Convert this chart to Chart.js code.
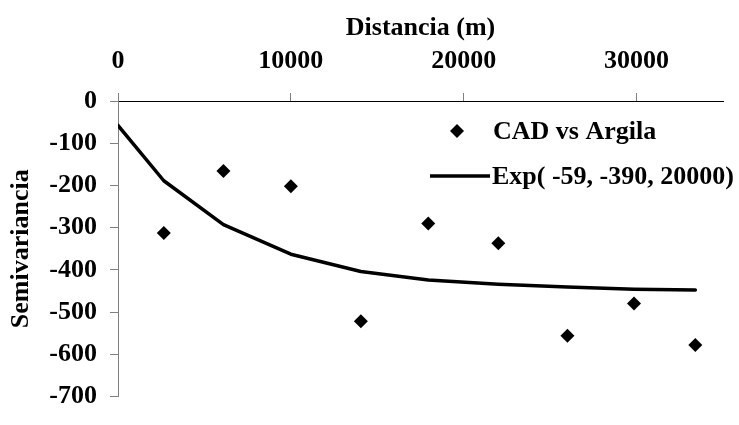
<!DOCTYPE html>
<html>
<head>
<meta charset="utf-8">
<script src="https://cdn.jsdelivr.net/npm/chart.js@4/dist/chart.umd.min.js"></script>
<style>
  html, body { margin: 0; padding: 0; background: #ffffff; }
  #wrap { width: 739px; height: 425px; }
</style>
</head>
<body>
<div id="wrap"><canvas id="semiChart" width="739" height="425"></canvas></div>
<script>

// =====================================
// DATA
// =====================================

const lagDistances = [2650, 6100, 10000, 14050, 17950, 22000, 26000, 29850, 33400];

const semivariance = [-313, -166, -202, -522, -290, -337, -556, -480, -578];

const modelDistances = [0, 2650, 6100, 10000, 14050, 17950, 22000, 26000, 29850, 33400];

const modelValues = [-58, -189, -293, -363, -404, -424, -434, -441, -446, -448];

const xTickValues = [0, 10000, 20000, 30000];

const yTickValues = [0, -100, -200, -300, -400, -500, -600, -700];

const pointLabel = "CAD vs Argila";
const modelLabel = "Exp( -59, -390, 20000)";


// =====================================
// DEFAULTS
// =====================================

Chart.defaults.font.family = "'Liberation Serif', 'Times New Roman', serif";
Chart.defaults.font.weight = "bold";
Chart.defaults.font.size = 26;
Chart.defaults.color = "#000000";


// =====================================
// LEGEND (drawn inside the plot)
// =====================================

const insideLegend = {
    id: "insideLegend",
    afterDatasetsDraw(chart){
        const ctx = chart.ctx;
        const sets = chart.data.datasets;
        ctx.save();
        ctx.fillStyle = "#000000";
        ctx.strokeStyle = "#000000";
        ctx.font = "bold 26px 'Liberation Serif', serif";
        ctx.textBaseline = "middle";
        ctx.textAlign = "left";

        // marker entry
        const mx = 457, my = 131, r = 7;
        ctx.beginPath();
        ctx.moveTo(mx, my - r);
        ctx.lineTo(mx + r, my);
        ctx.lineTo(mx, my + r);
        ctx.lineTo(mx - r, my);
        ctx.closePath();
        ctx.fill();
        ctx.fillText(sets[0].label, 493, my + 1);

        // line entry
        const ly = 176;
        ctx.lineWidth = 3.5;
        ctx.beginPath();
        ctx.moveTo(430, ly);
        ctx.lineTo(490, ly);
        ctx.stroke();
        ctx.fillText(sets[1].label, 492, ly + 1);

        ctx.restore();
    }
};


// =====================================
// CHART
// =====================================

const semiChart =
new Chart(

    document.getElementById("semiChart"),

    {
        type: "scatter",

        data: {
            datasets: [
                {
                    label: pointLabel,
                    data: lagDistances.map((d, i) => ({ x: d, y: semivariance[i] })),
                    pointStyle: "rectRot",
                    pointRadius: 7,
                    pointBackgroundColor: "#000000",
                    pointBorderWidth: 0,
                    showLine: false
                },
                {
                    label: modelLabel,
                    data: modelDistances.map((d, i) => ({ x: d, y: modelValues[i] })),
                    showLine: true,
                    borderColor: "#000000",
                    borderWidth: 3.5,
                    borderCapStyle: "round",
                    borderJoinStyle: "round",
                    pointRadius: 0,
                    tension: 0
                }
            ]
        },

        options: {
            responsive: false,
            animation: false,
            devicePixelRatio: 1,
            layout: {
                padding: { left: 0, top: 0, right: 16, bottom: 14 }
            },
            plugins: {
                legend: { display: false },
                tooltip: { enabled: false }
            },
            scales: {
                x: {
                    type: "linear",
                    position: "top",
                    min: 0,
                    max: 35000,
                    afterBuildTicks(scale){
                        scale.ticks = xTickValues.map(v => ({ value: v }));
                    },
                    afterFit(scale){
                        scale.height = 101;
                    },
                    ticks: {
                        padding: 16,
                        maxRotation: 0,
                        callback: v => String(v)
                    },
                    grid: {
                        drawOnChartArea: false,
                        drawTicks: true,
                        tickLength: 8,
                        color: "#808080"
                    },
                    border: {
                        color: "#000000",
                        width: 1
                    },
                    title: {
                        display: true,
                        text: "Distancia (m)",
                        padding: { top: 13, bottom: 0 }
                    }
                },
                y: {
                    type: "linear",
                    position: "left",
                    min: -700,
                    max: 0,
                    afterBuildTicks(scale){
                        scale.ticks = yTickValues.map(v => ({ value: v }));
                    },
                    afterFit(scale){
                        scale.width = 118;
                    },
                    ticks: {
                        padding: 13,
                        callback: v => String(v)
                    },
                    grid: {
                        drawOnChartArea: false,
                        drawTicks: true,
                        tickLength: 8,
                        color: "#808080"
                    },
                    border: {
                        color: "#808080",
                        width: 1
                    },
                    title: {
                        display: true,
                        text: "Semivariancia",
                        padding: { top: 6, bottom: 0 }
                    }
                }
            }
        },

        plugins: [insideLegend]
    }
);

</script>
</body>
</html>
